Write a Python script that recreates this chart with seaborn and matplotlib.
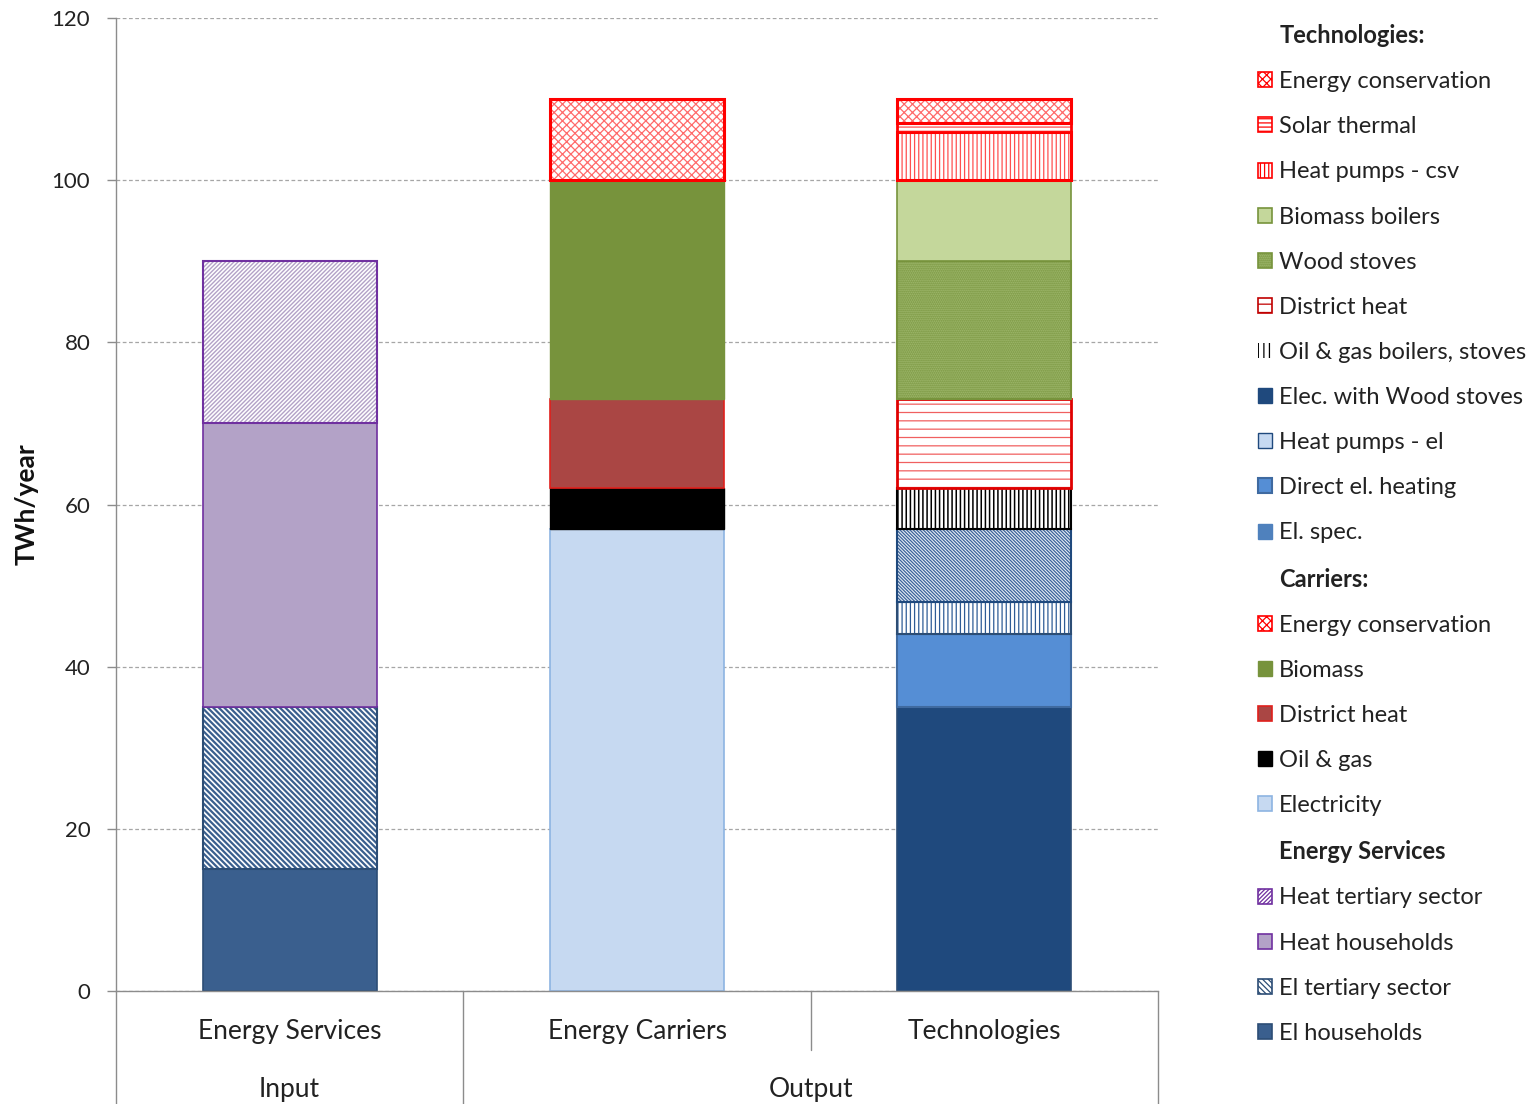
import matplotlib
matplotlib.use("Agg")
import matplotlib.pyplot as plt
from matplotlib.patches import Patch
import matplotlib.transforms as mtransforms
import seaborn as sns

# ---------------- data ----------------
categories = ["Energy Services", "Energy Carriers", "Technologies"]
category_group = ["Input", "Output", "Output"]
group_names = ["Input", "Output"]

services_labels = ["El households", "El tertiary sector", "Heat households", "Heat tertiary sector"]
services_values = [15, 20, 35, 20]

carrier_labels = ["Electricity", "Oil & gas", "District heat", "Biomass", "Energy conservation"]
carrier_values = [57, 5, 11, 27, 10]

tech_labels = ["El. spec.", "Direct el. heating", "Heat pumps - el", "Elec. with Wood stoves",
               "Oil & gas boilers, stoves", "District heat", "Wood stoves", "Biomass boilers",
               "Heat pumps - csv", "Solar thermal", "Energy conservation"]
tech_values = [35, 9, 4, 9, 5, 11, 17, 10, 6, 1, 3]

y_ticks = [0, 20, 40, 60, 80, 100, 120]
y_label = "TWh/year"

# ---------------- styles ----------------
# face, hatch, hatch colour, hatch width, border colour, border width
services_style = {
    "El households": dict(face="#3A5F8E", hatch=None, hc=None, hlw=0.9, edge="#2C4D75", lw=1.2),
    "El tertiary sector": dict(face="white", hatch="\\" * 6, hc="#3A5F8E", hlw=1.6, edge="#2C4D75", lw=1.5),
    "Heat households": dict(face="#B3A2C7", hatch=None, hc=None, hlw=0.9, edge="#7030A0", lw=1.2),
    "Heat tertiary sector": dict(face="white", hatch="/" * 8, hc="#B3A2C7", hlw=1.0, edge="#7030A0", lw=1.5),
}
carrier_style = {
    "Electricity": dict(face="#C6D9F1", hatch=None, hc=None, hlw=0.9, edge="#8DB4E2", lw=1.2),
    "Oil & gas": dict(face="#000000", hatch=None, hc=None, hlw=0.9, edge="#000000", lw=1.0),
    "District heat": dict(face="#AA4644", hatch=None, hc=None, hlw=0.9, edge="#E0201C", lw=1.2),
    "Biomass": dict(face="#77933C", hatch=None, hc=None, hlw=0.9, edge="#77933C", lw=1.0),
    "Energy conservation": dict(face="white", hatch="xxxx", hc="#FF6A6A", hlw=0.9, edge="#FF0000", lw=2.2),
}
tech_style = {
    "El. spec.": dict(face="#1F497D", hatch=None, hc=None, hlw=0.9, edge="#2C4D75", lw=1.2),
    "Direct el. heating": dict(face="#558ED5", hatch=None, hc=None, hlw=0.9, edge="#3F6AA0", lw=1.5),
    "Heat pumps - el": dict(face="white", hatch="||||", hc="#2F5C96", hlw=0.9, edge="#2C4D75", lw=1.5),
    "Elec. with Wood stoves": dict(face="#E8EEF6", hatch="\\" * 10, hc="#3B6499", hlw=0.9, edge="#1F497D", lw=1.5),
    "Oil & gas boilers, stoves": dict(face="white", hatch="||||", hc="#000000", hlw=1.1, edge="#000000", lw=1.5),
    "District heat": dict(face="white", hatch="--", hc="#F06060", hlw=0.9, edge="#E00000", lw=2.0),
    "Wood stoves": dict(face="#9DB76B", hatch="........", hc="#77933C", hlw=0.9, edge="#77933C", lw=1.5),
    "Biomass boilers": dict(face="#C4D79B", hatch=None, hc=None, hlw=0.9, edge="#77933C", lw=1.2),
    "Heat pumps - csv": dict(face="white", hatch="||||", hc="#FF5050", hlw=0.9, edge="#FF0000", lw=2.2),
    "Solar thermal": dict(face="white", hatch="----", hc="#FF5050", hlw=0.9, edge="#FF0000", lw=2.0),
    "Energy conservation": dict(face="white", hatch="xxxx", hc="#FF6A6A", hlw=0.9, edge="#FF0000", lw=2.2),
}
# legend swatches that differ from the bars (as drawn in the reference)
legend_override = {
    ("tech", "Elec. with Wood stoves"): dict(face="#1F497D", hatch=None, hc=None, hlw=0.9, edge="#1F497D", lw=1.0),
    ("tech", "Heat pumps - el"): dict(face="#C6D9F1", hatch=None, hc=None, hlw=0.9, edge="#1F497D", lw=1.0),
    ("tech", "El. spec."): dict(face="#4F81BD", hatch=None, hc=None, hlw=0.9, edge="#4F81BD", lw=1.0),
    ("tech", "Oil & gas boilers, stoves"): dict(face="white", hatch="|||", hc="#000000", hlw=1.3, edge="white", lw=0.0),
    ("tech", "District heat"): dict(face="white", hatch="--", hc="#E04040", hlw=0.9, edge="#C00000", lw=1.5),
}

sns.set_theme(style="white")
FONT = ["Lato", "DejaVu Sans"]
plt.rcParams["font.family"] = FONT
plt.rcParams["hatch.linewidth"] = 0.9

fig = plt.figure(figsize=(15.38, 11.04), dpi=100)
ax = fig.add_axes([116 / 1538, 1 - 991 / 1104, (1158 - 116) / 1538, (991 - 18) / 1104])
ax.set_axisbelow(True)


def set_hatch_width(patches, w):
    for p in patches:
        if hasattr(p, "set_hatch_linewidth"):
            p.set_hatch_linewidth(w)


def draw_stack(cat, labels, values, styles):
    base = 0
    for lab, val in zip(labels, values):
        st = styles[lab]
        if st["hatch"]:
            n0 = len(ax.patches)
            plt.rcParams["hatch.linewidth"] = st["hlw"]
            sns.barplot(x=[cat], y=[val], order=categories, color=st["face"], saturation=1,
                        width=0.5, errorbar=None, hatch=st["hatch"], edgecolor=st["hc"],
                        linewidth=0, bottom=base, ax=ax)
            set_hatch_width(ax.patches[n0:], st["hlw"])
            sns.barplot(x=[cat], y=[val], order=categories, color=st["edge"], saturation=1,
                        width=0.5, errorbar=None, fill=False, linewidth=st["lw"],
                        bottom=base, ax=ax)
        else:
            sns.barplot(x=[cat], y=[val], order=categories, color=st["face"], saturation=1,
                        width=0.5, errorbar=None, edgecolor=st["edge"], linewidth=st["lw"],
                        bottom=base, ax=ax)
        base += val
    plt.rcParams["hatch.linewidth"] = 0.9


draw_stack(categories[0], services_labels, services_values, services_style)
draw_stack(categories[1], carrier_labels, carrier_values, carrier_style)
draw_stack(categories[2], tech_labels, tech_values, tech_style)

# ---------------- axes ----------------
ax.set_xlim(-0.5, len(categories) - 0.5)
ax.set_ylim(y_ticks[0], y_ticks[-1])
ax.set_yticks(y_ticks)
ax.set_yticklabels([str(t) for t in y_ticks], fontsize=16, color="#222222")
ax.yaxis.grid(True, color="#A6A6A6", linestyle=(0, (3, 2)), linewidth=0.9)
ax.xaxis.grid(False)
for side in ["top", "right"]:
    ax.spines[side].set_visible(False)
for side in ["left", "bottom"]:
    ax.spines[side].set_color("#8C8C8C")
    ax.spines[side].set_linewidth(1.0)
ax.tick_params(axis="y", which="major", left=True, length=6.5, width=1.0, color="#8C8C8C", pad=12)
ax.set_xticks(range(len(categories)))
ax.set_xticklabels([])
ax.tick_params(axis="x", length=0)
ax.set_xlabel("")
ax.set_ylabel(y_label, fontsize=19, fontweight="bold", color="#111111")
ax.yaxis.set_label_coords(-(116 - 39) / 1042, 0.5)

trans = mtransforms.blended_transform_factory(ax.transData, ax.transAxes)
lo = -0.13
# category labels
for i, c in enumerate(categories):
    ax.text(i, -40 / 973, c, transform=trans, ha="center", va="center", fontsize=19,
            color="#222222", clip_on=False)
# group labels and separators
for g in group_names:
    idx = [i for i, cg in enumerate(category_group) if cg == g]
    ax.text((idx[0] + idx[-1]) / 2, -98 / 973, g, transform=trans, ha="center", va="center",
            fontsize=19, color="#222222", clip_on=False)
    ax.plot([idx[-1] + 0.5] * 2, [0, lo], transform=trans, color="#8C8C8C", lw=1.0, clip_on=False)
ax.plot([-0.5, -0.5], [0, lo], transform=trans, color="#8C8C8C", lw=1.0, clip_on=False)
for i in range(len(categories) - 1):
    if category_group[i] == category_group[i + 1]:
        ax.plot([i + 0.5] * 2, [0, -59 / 973], transform=trans, color="#8C8C8C", lw=1.0,
                clip_on=False)

# ---------------- legend ----------------
def make_patch(st):
    plt.rcParams["hatch.linewidth"] = st["hlw"]
    p = Patch(facecolor=st["face"], hatch=st["hatch"],
              edgecolor=(st["hc"] if st["hatch"] else st["edge"]),
              linewidth=st["lw"] if not st["hatch"] else 0)
    set_hatch_width([p], st["hlw"])
    plt.rcParams["hatch.linewidth"] = 0.9
    return p

handles, labels = [], []
header_idx = []
blank = Patch(facecolor="none", edgecolor="none")
for header, key, labs, styles in [("Technologies:", "tech", tech_labels, tech_style),
                                  ("Carriers:", "carr", carrier_labels, carrier_style),
                                  ("Energy Services", "serv", services_labels, services_style)]:
    header_idx.append(len(labels))
    handles.append(blank)
    labels.append(header)
    for lab in reversed(labs):
        st = legend_override.get((key, lab), styles[lab])
        p = make_patch(st)
        if st["hatch"] and st["lw"] > 0:
            p.set_edgecolor(st["edge"])
            p.set_linewidth(1.2)
        handles.append(p)
        labels.append(lab)

LFS = 17
leg = ax.legend(handles, labels, loc="upper left", bbox_to_anchor=(1258 / 1538, 1 - 24 / 1104),
                bbox_transform=fig.transFigure, frameon=False, fontsize=LFS,
                handlelength=0.6, handleheight=0.6, handletextpad=0.3,
                labelspacing=1.022, borderpad=0, borderaxespad=0)
for i, t in enumerate(leg.get_texts()):
    t.set_color("#222222")
    if i in header_idx:
        t.set_fontweight("bold")

fig.savefig("out.png", dpi=100)
